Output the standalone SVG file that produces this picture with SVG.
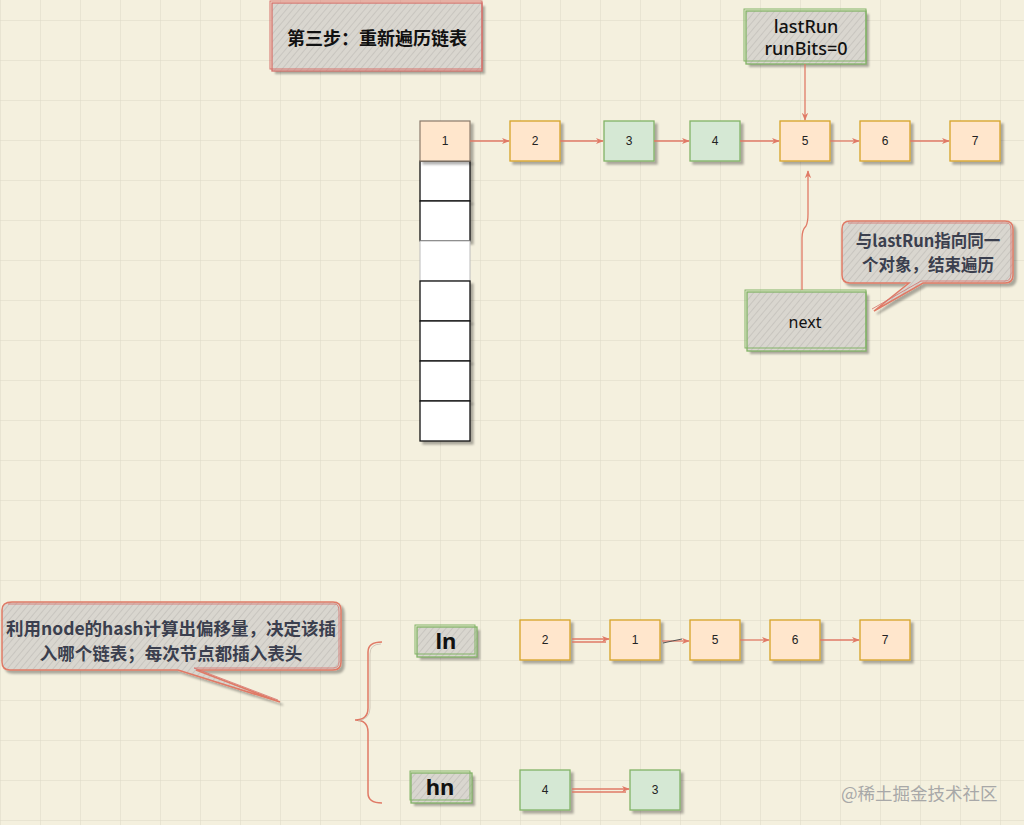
<svg xmlns="http://www.w3.org/2000/svg" width="1024" height="825" viewBox="0 0 1024 825">
<defs>
<pattern id="grid" x="0" y="20" width="40" height="40" patternUnits="userSpaceOnUse">
<path d="M0 0H40M0 0V40" fill="none" stroke="#dcd8c6" stroke-width="1"/>
</pattern>
<pattern id="hatch" width="5" height="5" patternUnits="userSpaceOnUse" patternTransform="rotate(40)">
<rect width="5" height="5" fill="#d9d6cf"/>
<line x1="0" y1="0" x2="0" y2="5" stroke="#b3b1ab" stroke-width="0.9"/>
</pattern>
<filter id="sh" x="-20%" y="-20%" width="150%" height="150%">
<feDropShadow dx="3" dy="3" stdDeviation="1.2" flood-color="#000" flood-opacity="0.3"/>
</filter>
<marker id="arr" viewBox="0 0 10 10" refX="9" refY="5" markerWidth="8" markerHeight="8" orient="auto" markerUnits="userSpaceOnUse">
<path d="M0 1L10 5L0 9L3 5Z" fill="#e07a66"/>
</marker>
<style>
.org{fill:#ffe6cc;stroke:#d6a428;stroke-width:1.3}
.grn{fill:#d5e8d4;stroke:#82b366;stroke-width:1.3}
.cell{fill:#ffffff;stroke:#111;stroke-width:1.3}
.lbl{font-family:"Liberation Sans",Arial,sans-serif;font-size:12px;fill:#222;text-anchor:middle;dominant-baseline:central}
.hand{font-family:"Noto Sans","Noto Sans CJK SC",sans-serif;fill:#111;text-anchor:middle;dominant-baseline:central}
.cn{font-family:"Noto Sans CJK SC","Noto Sans",sans-serif;font-weight:bold;text-anchor:middle;dominant-baseline:central}
.con{fill:none;stroke:#e07a66;stroke-width:1.3}
</style>
</defs>
<rect width="1024" height="825" fill="#f4f0de"/>
<rect width="1024" height="825" fill="url(#grid)"/>

<g id="title">
<rect x="272" y="3" width="210" height="68" fill="url(#hatch)" filter="url(#sh)"/>
<rect x="272" y="3" width="210" height="68" fill="none" stroke="#d6706a" stroke-width="1.3"/>
<rect x="270" y="1" width="212" height="68" fill="none" stroke="#d6706a" stroke-width="1"/>
<text class="cn" x="377" y="37" font-size="18" fill="#111">第三步：重新遍历链表</text>
</g>

<g id="lastRun">
<rect x="746" y="11" width="120" height="53" fill="url(#hatch)" filter="url(#sh)"/>
<rect x="746" y="11" width="120" height="53" fill="none" stroke="#82b366" stroke-width="1.3"/>
<rect x="744" y="9" width="122" height="52" fill="none" stroke="#82b366" stroke-width="1"/>
<text class="hand" x="806" y="26" font-size="18" font-weight="500">lastRun</text>
<text class="hand" x="806" y="48" font-size="18" font-weight="500">runBits=0</text>
</g>

<g id="array">
<rect class="cell" x="420" y="161" width="50" height="40" filter="url(#sh)"/>
<rect class="cell" x="420" y="201" width="50" height="40" filter="url(#sh)"/>
<rect x="420" y="241" width="50" height="40" fill="#fff" stroke="#bbb" stroke-width="1"/>
<rect class="cell" x="420" y="281" width="50" height="40" filter="url(#sh)"/>
<rect class="cell" x="420" y="321" width="50" height="40" filter="url(#sh)"/>
<rect class="cell" x="420" y="361" width="50" height="40" filter="url(#sh)"/>
<rect class="cell" x="420" y="401" width="50" height="40" filter="url(#sh)"/>
</g>

<g id="t1"><rect x="420" y="121" width="50" height="40" fill="#ffe6cc" stroke="#8a7a6a" stroke-width="1.2" filter="url(#sh)"/><text class="lbl" x="445" y="141">1</text></g>
<g id="t2"><rect class="org" x="510" y="121" width="50" height="40" filter="url(#sh)"/><text class="lbl" x="535" y="141">2</text></g>
<g id="t3"><rect class="grn" x="604" y="121" width="50" height="40" filter="url(#sh)"/><text class="lbl" x="629" y="141">3</text></g>
<g id="t4"><rect class="grn" x="690" y="121" width="50" height="40" filter="url(#sh)"/><text class="lbl" x="715" y="141">4</text></g>
<g id="t5"><rect class="org" x="780" y="121" width="50" height="40" filter="url(#sh)"/><text class="lbl" x="805" y="141">5</text></g>
<g id="t6"><rect class="org" x="860" y="121" width="50" height="40" filter="url(#sh)"/><text class="lbl" x="885" y="141">6</text></g>
<g id="t7"><rect class="org" x="950" y="121" width="50" height="40" filter="url(#sh)"/><text class="lbl" x="975" y="141">7</text></g>

<g id="next">
<rect x="747" y="292" width="119" height="59" fill="url(#hatch)" filter="url(#sh)"/>
<rect x="747" y="292" width="119" height="59" fill="none" stroke="#82b366" stroke-width="1.3"/>
<rect x="745" y="290" width="121" height="58" fill="none" stroke="#82b366" stroke-width="1"/>
<text class="hand" x="805" y="322" font-size="16">next</text>
</g>

<g id="callout1">
<path d="M850 221H1005Q1013 221 1013 229V275Q1013 283 1005 283H923L874 311L909 283H850Q842 283 842 275V229Q842 221 850 221Z" fill="url(#hatch)" stroke="#e07a66" stroke-width="1.5" filter="url(#sh)"/>
<path d="M848 223H1007Q1011 223 1011 230V274Q1011 281 1005 281H921L872 309" fill="none" stroke="#d6706a" stroke-width="0.8"/>
<text class="cn" x="928" y="240" font-size="16.5" fill="#3b3f4e">与lastRun指向同一</text>
<text class="cn" x="928" y="264" font-size="16.5" fill="#3b3f4e">个对象，结束遍历</text>
</g>

<g id="callout2">
<path d="M12 602H333Q341 602 341 610V662Q341 670 333 670H196L280 702L178 670H10Q2 670 2 662V610Q2 602 12 602Z" fill="url(#hatch)" stroke="#e07a66" stroke-width="1.5" filter="url(#sh)"/>
<path d="M8 604H335Q339 604 339 612V662Q339 668 333 668H194L278 700" fill="none" stroke="#d6706a" stroke-width="0.8"/>
<text class="cn" x="171" y="627" font-size="17.5" fill="#3b3f4e">利用node的hash计算出偏移量，决定该插</text>
<text class="cn" x="171" y="652" font-size="17.5" fill="#3b3f4e">入哪个链表；每次节点都插入表头</text>
</g>

<g id="brace">
<path d="M382 642Q368 642 368 652V708Q368 720 355 720Q368 720 368 732V793Q368 803 382 803" fill="none" stroke="#e07a66" stroke-width="1.5"/>
<path d="M381 644Q370 644 370 654V708Q370 719 358 721" fill="none" stroke="#c9bfb0" stroke-width="0.8"/>
</g>

<g id="ln">
<rect x="417" y="627" width="60" height="30" fill="url(#hatch)" filter="url(#sh)"/>
<rect x="417" y="627" width="60" height="30" fill="none" stroke="#82b366" stroke-width="1.3"/>
<rect x="415" y="625" width="60" height="29" fill="none" stroke="#82b366" stroke-width="1"/>
<text class="hand" x="446" y="640" font-size="22" font-weight="bold">ln</text>
</g>

<g id="hn">
<rect x="411" y="773" width="61" height="30" fill="url(#hatch)" filter="url(#sh)"/>
<rect x="411" y="773" width="61" height="30" fill="none" stroke="#82b366" stroke-width="1.3"/>
<rect x="410" y="771" width="60" height="29" fill="none" stroke="#82b366" stroke-width="1"/>
<text class="hand" x="440" y="786" font-size="22" font-weight="bold">hn</text>
</g>

<g id="b2"><rect class="org" x="520" y="620" width="50" height="40" filter="url(#sh)"/><text class="lbl" x="545" y="640">2</text></g>
<g id="b1"><rect class="org" x="610" y="620" width="50" height="40" filter="url(#sh)"/><text class="lbl" x="635" y="640">1</text></g>
<g id="b5"><rect class="org" x="690" y="620" width="50" height="40" filter="url(#sh)"/><text class="lbl" x="715" y="640">5</text></g>
<g id="b6"><rect class="org" x="770" y="620" width="50" height="40" filter="url(#sh)"/><text class="lbl" x="795" y="640">6</text></g>
<g id="b7"><rect class="org" x="860" y="620" width="50" height="40" filter="url(#sh)"/><text class="lbl" x="885" y="640">7</text></g>
<g id="h4"><rect class="grn" x="520" y="770" width="50" height="40" filter="url(#sh)"/><text class="lbl" x="545" y="790">4</text></g>
<g id="h3"><rect class="grn" x="630" y="770" width="50" height="40" filter="url(#sh)"/><text class="lbl" x="655" y="790">3</text></g>

<g id="connectors">
<path class="con" d="M470 141H509" marker-end="url(#arr)"/>
<path class="con" d="M560 141H603" marker-end="url(#arr)"/>
<path class="con" d="M654 141H689" marker-end="url(#arr)"/>
<path class="con" d="M740 141H779" marker-end="url(#arr)"/>
<path class="con" d="M830 141H859" marker-end="url(#arr)"/>
<path class="con" d="M910 141H949" marker-end="url(#arr)"/>
<path class="con" d="M805 64V120" marker-end="url(#arr)"/>
<path class="con" d="M802 290V238Q802 230 806 226Q808 222 808 214V171" marker-end="url(#arr)"/>
<path class="con" d="M572 639H609" marker-end="url(#arr)"/>
<path class="con" d="M572 642H606" stroke-width="1"/>
<path class="con" d="M662 641H689" marker-end="url(#arr)"/>
<path d="M663 643Q672 641 682 639" fill="none" stroke="#555" stroke-width="1"/>
<path class="con" d="M740 640H769" marker-end="url(#arr)"/>
<path class="con" d="M820 640H859" marker-end="url(#arr)"/>
<path class="con" d="M572 789H629" marker-end="url(#arr)"/>
<path class="con" d="M572 792H626" stroke-width="1"/>
</g>

<text x="841" y="792" font-family="Noto Sans CJK SC,sans-serif" font-size="17.5" fill="#a8a8a8" dominant-baseline="central">@稀土掘金技术社区</text>
</svg>
